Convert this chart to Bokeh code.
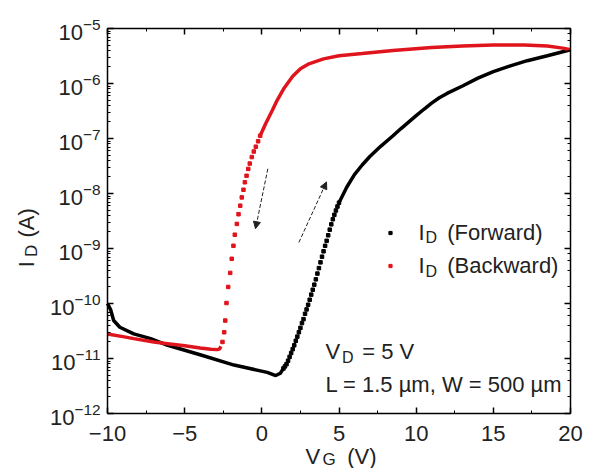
import math
from bokeh.plotting import figure
from bokeh.models import (Range1d, LinearAxis, LogAxis, SingleIntervalTicker, LogTicker,
                          Label, Arrow, NormalHead, Legend, LegendItem, CustomJSTickFormatter)
from bokeh.embed import file_html
from bokeh.resources import INLINE

# ---------------- data ----------------
# Forward sweep (black)
fwd_off_vg = [-10.0, -9.8, -9.6, -9.2, -8.3, -7.2, -6.1, -4.0, -1.8, 0.35, 0.9, 1.2, 1.4]
fwd_off_id = [1.0e-10, 7.8e-11, 4.9e-11, 3.7e-11, 2.8e-11, 2.3e-11, 1.74e-11, 1.17e-11,
              7.6e-12, 5.6e-12, 4.9e-12, 5.4e-12, 6.6e-12]
fwd_sub_vg = [1.4, 1.5, 1.6, 1.7, 1.8, 1.9, 2.0, 2.1, 2.2, 2.3, 2.4, 2.5, 2.6, 2.7, 2.8, 2.9,
              3.0, 3.1, 3.2, 3.3, 3.4, 3.5, 3.6, 3.7, 3.8, 3.9, 4.0, 4.1, 4.2, 4.3, 4.4, 4.5,
              4.6, 4.7, 4.8, 4.9, 5.0]
fwd_sub_id = [6.6e-12, 7.2e-12, 7.9e-12, 9.1e-12, 1.07e-11, 1.26e-11, 1.48e-11, 1.74e-11,
              2.1e-11, 2.5e-11, 3.0e-11, 3.6e-11, 4.4e-11, 5.2e-11, 6.5e-11, 7.8e-11,
              9.5e-11, 1.17e-10, 1.45e-10, 1.78e-10, 2.2e-10, 2.75e-10, 3.5e-10, 4.4e-10,
              5.6e-10, 7.1e-10, 8.9e-10, 1.12e-9, 1.38e-9, 1.74e-9, 2.2e-9, 2.75e-9,
              3.4e-9, 4.1e-9, 4.9e-9, 5.8e-9, 6.8e-9]
fwd_on_vg = [5.0, 5.5, 6.0, 6.5, 7.0, 7.7, 8.5, 9.0, 10.0, 10.5, 11.0, 11.5, 12.0, 13.0,
             14.0, 15.0, 16.0, 17.2, 18.5, 20.0]
fwd_on_id = [6.8e-9, 1.3e-8, 2.2e-8, 3.3e-8, 4.7e-8, 7.2e-8, 1.12e-7, 1.5e-7, 2.6e-7,
             3.4e-7, 4.4e-7, 5.5e-7, 6.6e-7, 9.0e-7, 1.25e-6, 1.65e-6, 2.05e-6, 2.6e-6,
             3.2e-6, 4.1e-6]

# Backward sweep (red)
bwd_off_vg = [-10.0, -9.0, -8.3, -7.0, -6.1, -5.0, -4.0, -3.3, -2.9, -2.75, -2.65]
bwd_off_id = [2.8e-11, 2.5e-11, 2.3e-11, 2.0e-11, 1.86e-11, 1.7e-11, 1.55e-11, 1.48e-11,
              1.45e-11, 1.48e-11, 1.66e-11]
bwd_sub_vg = [-2.55, -2.44, -2.37, -2.29, -2.18, -2.05, -1.95, -1.84, -1.75, -1.62, -1.51,
              -1.40, -1.30, -1.19, -1.10, -0.99, -0.88, -0.78, -0.65, -0.52, -0.39, -0.24,
              -0.11]
bwd_sub_id = [2.0e-11, 3.0e-11, 4.9e-11, 1.02e-10, 2.0e-10, 3.6e-10, 6.5e-10, 1.12e-9,
              1.78e-9, 2.8e-9, 4.2e-9, 6.0e-9, 8.5e-9, 1.17e-8, 1.6e-8, 2.1e-8, 2.8e-8,
              3.5e-8, 4.6e-8, 5.8e-8, 7.1e-8, 8.9e-8, 1.12e-7]
bwd_on_vg = [-0.11, 0.26, 0.69, 1.0, 1.45, 2.0, 2.5, 3.0, 4.0, 5.0, 6.5, 8.5, 11.0, 13.0,
             15.0, 17.0, 18.5, 19.5, 20.0]
bwd_on_id = [1.12e-7, 1.9e-7, 3.3e-7, 5.0e-7, 8.3e-7, 1.35e-6, 1.85e-6, 2.25e-6, 2.8e-6,
             3.2e-6, 3.5e-6, 4.0e-6, 4.5e-6, 4.8e-6, 5.0e-6, 5.0e-6, 4.8e-6, 4.4e-6, 4.1e-6]

# sweep-direction arrows: (x_start, y_start, x_end, y_end)
arrow_bwd = (0.39, 10 ** -7.55, -0.41, 10 ** -8.64)
arrow_fwd = (2.40, 10 ** -8.89, 4.19, 10 ** -7.79)

# axis limits and ticks
x_lim = (-10, 20)
y_lim = (1e-12, 1e-5)
x_tick_step = 5

# ---------------- layout / styles ----------------
W, H = 601, 468
FL, FT, FR, FB = 107, 28, 570, 413          # visible plot box inside the canvas (px)
FONT = "Liberation Sans"
TXT = "#222222"
RED = "#e0141c"
BLK = "#000000"
FS = "22px"
FS_SUB = "16px"

# the Bokeh frame spans the whole canvas; the axes are pinned at the box edges
kx = (FR - FL) / (x_lim[1] - x_lim[0])
ky = (FB - FT) / (math.log10(y_lim[1]) - math.log10(y_lim[0]))
xr = Range1d(x_lim[0] - FL / kx, x_lim[1] + (W - FR) / kx)
yr = Range1d(10 ** (math.log10(y_lim[0]) - (H - FB) / ky),
             10 ** (math.log10(y_lim[1]) + FT / ky))

p = figure(width=W, height=H, y_axis_type="log", x_range=xr, y_range=yr,
           output_backend="svg", toolbar_location=None, min_border=0)
p.xgrid.visible = False
p.ygrid.visible = False
p.outline_line_color = None
p.background_fill_color = "white"
p.border_fill_color = "white"


def style_axis(ax):
    ax.axis_line_width = 1.5
    ax.axis_line_color = "black"
    ax.major_tick_in = 6
    ax.major_tick_out = 0
    ax.minor_tick_in = 3
    ax.minor_tick_out = 0
    ax.major_tick_line_width = 1.5
    ax.minor_tick_line_width = 1
    ax.major_tick_line_color = "black"
    ax.minor_tick_line_color = "black"
    ax.major_label_text_font = FONT
    ax.major_label_text_font_size = FS
    ax.major_label_text_color = TXT
    ax.axis_label = None


xb = p.xaxis[0]
xb.ticker = SingleIntervalTicker(interval=x_tick_step, num_minor_ticks=2)
xb.fixed_location = y_lim[0]
xb.bounds = x_lim
style_axis(xb)
xb.major_label_standoff = 12

yl = p.yaxis[0]
yl.fixed_location = x_lim[0]
yl.bounds = y_lim
style_axis(yl)
yl.major_label_standoff = 7

top = LinearAxis(ticker=SingleIntervalTicker(interval=x_tick_step, num_minor_ticks=2),
                 formatter=CustomJSTickFormatter(code="return ''"),
                 fixed_location=y_lim[1], bounds=x_lim)
style_axis(top)
top.major_label_standoff = 0
p.add_layout(top, "above")

right = LogAxis(ticker=LogTicker(), formatter=CustomJSTickFormatter(code="return ''"),
                fixed_location=x_lim[1], bounds=y_lim)
style_axis(right)
right.major_label_standoff = 0
p.add_layout(right, "right")

# ---------------- curves ----------------
p.line(fwd_off_vg, fwd_off_id, line_width=3.5, line_color=BLK)
r_fwd = p.scatter(fwd_sub_vg, fwd_sub_id, marker="square", size=3.5, color=BLK)
p.line(fwd_on_vg, fwd_on_id, line_width=3.5, line_color=BLK)

p.line(bwd_off_vg, bwd_off_id, line_width=3.5, line_color=RED)
r_bwd = p.scatter(bwd_sub_vg, bwd_sub_id, marker="square", size=3.5, color=RED)
p.line(bwd_on_vg, bwd_on_id, line_width=3.5, line_color=RED)

# ---------------- arrows ----------------
for a in (arrow_bwd, arrow_fwd):
    p.add_layout(Arrow(x_start=a[0], y_start=a[1], x_end=a[2], y_end=a[3],
                       line_color="#222222", line_width=1, line_dash="4 2",
                       end=NormalHead(size=7, fill_color="#222222", line_color="#222222")))

# ---------------- legend markers ----------------
leg = Legend(items=[LegendItem(label=" ", renderers=[r_fwd]),
                    LegendItem(label=" ", renderers=[r_bwd])],
             location=(386, H - 281.5), padding=0, spacing=0, margin=0,
             glyph_width=8, glyph_height=33, label_height=33, label_width=1,
             label_standoff=0, label_text_font_size="1px",
             border_line_color=None, background_fill_alpha=0)
p.add_layout(leg)


# ---------------- texts ----------------
def lab(x, y, text, size=FS, angle=0.0):
    """x, y: canvas px (from the top-left) of the text start."""
    p.add_layout(Label(x=x, y=H - y, x_units="screen", y_units="screen",
                       text=text, text_font=FONT, text_font_size=size,
                       text_color=TXT, text_baseline="alphabetic", text_align="left",
                       angle=angle))


# legend texts
lab(418, 231.5, "I")
lab(425, 237, "D", FS_SUB)
lab(446.7, 231.5, "(Forward)")
lab(418, 265, "I")
lab(425, 270.5, "D", FS_SUB)
lab(446.7, 265, "(Backward)")

# conditions
lab(325, 351, "V")
lab(341.5, 357, "D", FS_SUB)
lab(361.7, 351, "= 5 V")
lab(325, 384, "L = 1.5 \u00b5m, W = 500 \u00b5m")

# x axis title
lab(305, 455.5, "V")
lab(322, 459, "G", "17px")
lab(346.7, 455.5, "(V)")

# y axis title (rotated)
lab(26, 266.7, "I", FS, math.pi / 2)
lab(31, 256.5, "D", "17px", math.pi / 2)
lab(26, 237, "(A)", FS, math.pi / 2)

open("out.html", "w").write(file_html(p, INLINE))
